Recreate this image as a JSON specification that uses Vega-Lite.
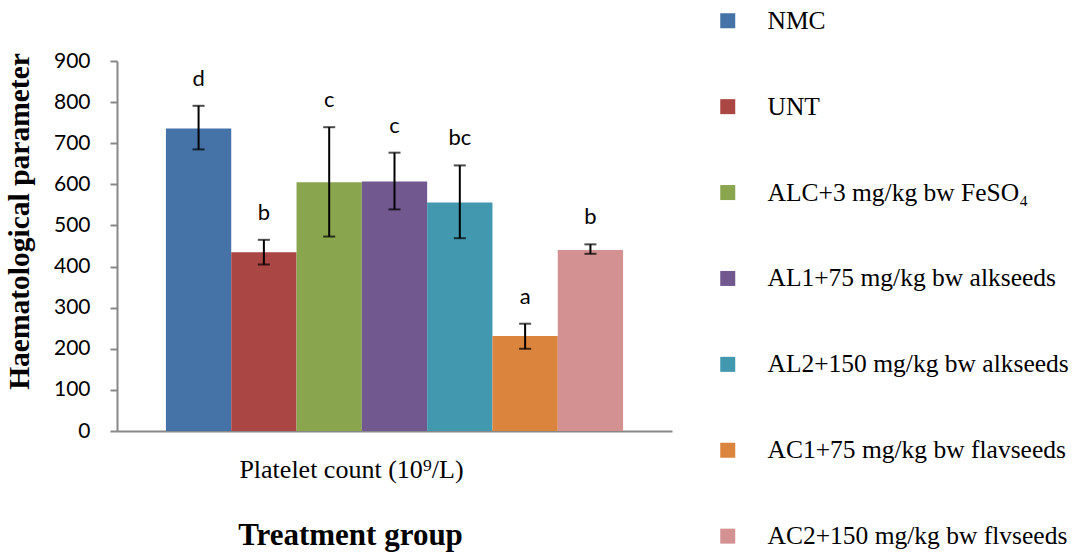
{
  "$schema": "https://vega.github.io/schema/vega-lite/v6.json",
  "autosize": {"type": "none"},
  "padding": {"left": 117, "top": 61, "right": 401, "bottom": 125},
  "width": 555,
  "height": 370,
  "background": "white",
  "config": {"view": {"stroke": null}},
  "data": {
    "values": [
      {"param": "Platelet count (10⁹/L)", "group": "NMC", "value": 736, "lo": 685, "hi": 791, "letter": "d"},
      {"param": "Platelet count (10⁹/L)", "group": "UNT", "value": 435, "lo": 405, "hi": 465, "letter": "b"},
      {"param": "Platelet count (10⁹/L)", "group": "ALC+3 mg/kg bw FeSO₄", "value": 605, "lo": 473, "hi": 739, "letter": "c"},
      {"param": "Platelet count (10⁹/L)", "group": "AL1+75 mg/kg bw alkseeds", "value": 607, "lo": 539, "hi": 677, "letter": "c"},
      {"param": "Platelet count (10⁹/L)", "group": "AL2+150 mg/kg bw alkseeds", "value": 556, "lo": 469, "hi": 646, "letter": "bc"},
      {"param": "Platelet count (10⁹/L)", "group": "AC1+75 mg/kg bw flavseeds", "value": 231, "lo": 200, "hi": 261, "letter": "a"},
      {"param": "Platelet count (10⁹/L)", "group": "AC2+150 mg/kg bw flvseeds", "value": 440, "lo": 431, "hi": 454, "letter": "b"}
    ]
  },
  "encoding": {
    "x": {
      "field": "param", "type": "nominal",
      "scale": {"paddingInner": 0, "paddingOuter": 0.107},
      "axis": {
        "title": "Treatment group",
        "titleFont": "Liberation Serif", "titleFontSize": 31, "titleFontWeight": "bold", "titleColor": "black",
        "titleX": 233, "titleY": 89, "titleBaseline": "top",
        "labelFont": "Liberation Serif", "labelFontSize": 26, "labelColor": "black", "labelAngle": 0,
        "labelOffset": -43, "labelPadding": 25, "labelLimit": 500,
        "ticks": false, "domainColor": "#888888", "domainWidth": 2
      }
    },
    "xOffset": {
      "field": "group", "type": "nominal",
      "sort": ["NMC", "UNT", "ALC+3 mg/kg bw FeSO₄", "AL1+75 mg/kg bw alkseeds", "AL2+150 mg/kg bw alkseeds", "AC1+75 mg/kg bw flavseeds", "AC2+150 mg/kg bw flvseeds"],
      "scale": {"paddingInner": 0, "paddingOuter": 0}
    }
  },
  "layer": [
    {
      "mark": {"type": "bar"},
      "encoding": {
        "y": {
          "field": "value", "type": "quantitative",
          "scale": {"domain": [0, 900], "nice": false},
          "axis": {
            "values": [0, 100, 200, 300, 400, 500, 600, 700, 800, 900],
            "grid": false,
            "title": "Haematological parameter",
            "titleFont": "Liberation Serif", "titleFontSize": 29.5, "titleFontWeight": "bold", "titleColor": "black",
            "titlePadding": 19, "titleY": 160,
            "labelFont": "Lato", "labelFontSize": 21, "labelColor": "black", "labelPadding": 20,
            "tickSize": 7, "tickColor": "#888888", "tickWidth": 2,
            "domainColor": "#888888", "domainWidth": 2
          }
        },
        "color": {
          "field": "group", "type": "nominal",
          "sort": ["NMC", "UNT", "ALC+3 mg/kg bw FeSO₄", "AL1+75 mg/kg bw alkseeds", "AL2+150 mg/kg bw alkseeds", "AC1+75 mg/kg bw flavseeds", "AC2+150 mg/kg bw flvseeds"],
          "scale": {
            "domain": ["NMC", "UNT", "ALC+3 mg/kg bw FeSO₄", "AL1+75 mg/kg bw alkseeds", "AL2+150 mg/kg bw alkseeds", "AC1+75 mg/kg bw flavseeds", "AC2+150 mg/kg bw flvseeds"],
            "range": ["#4572A7", "#AA4643", "#89A54E", "#71588F", "#4198AF", "#DB843D", "#D39192"]
          },
          "legend": {
            "title": null, "orient": "none", "legendX": 598, "legendY": -53,
            "symbolType": "square", "symbolSize": 225, "symbolStrokeWidth": 0, "symbolOpacity": 1,
            "labelFont": "Liberation Serif", "labelFontSize": 25.5, "labelColor": "black",
            "labelOffset": 27, "rowPadding": 58.9, "padding": 0, "labelLimit": 500
          }
        }
      }
    },
    {
      "mark": {"type": "rule", "color": "black", "strokeWidth": 2},
      "encoding": {"y": {"field": "lo", "type": "quantitative"}, "y2": {"field": "hi"}}
    },
    {
      "mark": {"type": "tick", "color": "black", "thickness": 2, "size": 12, "orient": "horizontal"},
      "encoding": {"y": {"field": "lo", "type": "quantitative"}}
    },
    {
      "mark": {"type": "tick", "color": "black", "thickness": 2, "size": 12, "orient": "horizontal"},
      "encoding": {"y": {"field": "hi", "type": "quantitative"}}
    },
    {
      "mark": {"type": "text", "font": "Lato", "fontSize": 22, "color": "black", "dy": -20, "baseline": "alphabetic"},
      "encoding": {"y": {"field": "hi", "type": "quantitative"}, "text": {"field": "letter"}}
    }
  ]
}
